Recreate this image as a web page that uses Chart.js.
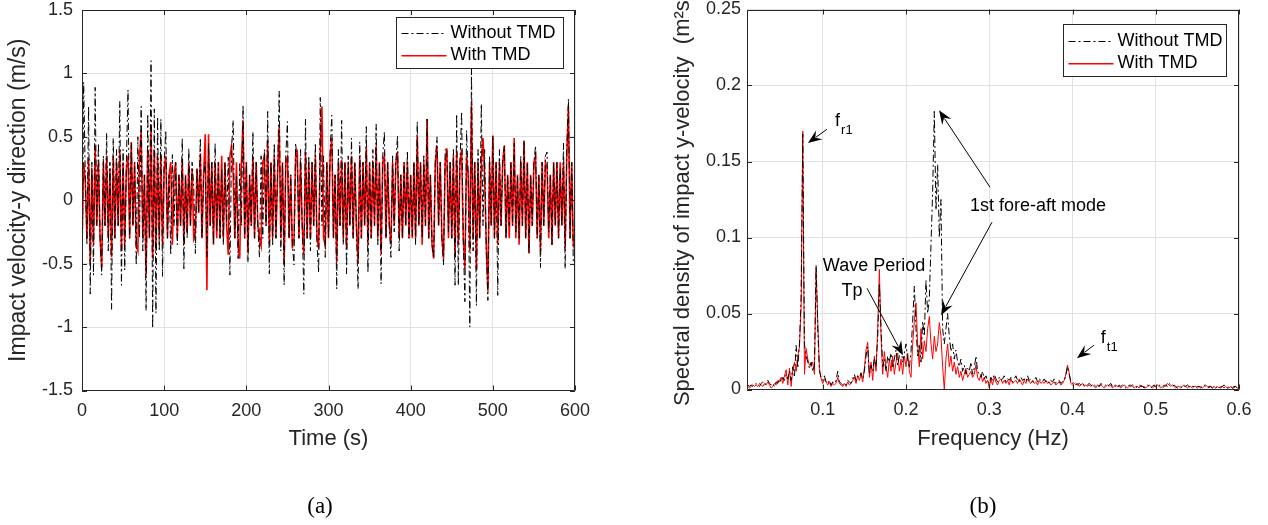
<!DOCTYPE html>
<html lang="en">
<head>
<meta charset="UTF-8">
<title>Impact velocity with and without TMD</title>
<script src="https://cdn.jsdelivr.net/npm/chart.js"></script>
<style>
  body { margin: 0; background: #fff; width: 1268px; height: 525px; position: relative; overflow: hidden; }
  canvas { position: absolute; top: 0; }
  #c1 { left: 0; }
  #c2 { left: 634px; }
  .cap { position: absolute; top: 493px; font: 23px "Liberation Serif", "Times New Roman", serif; line-height: 26px; transform: translateX(-50%); color: #000; }
</style>
</head>
<body>
<canvas id="c1" width="634" height="525"></canvas>
<canvas id="c2" width="634" height="525"></canvas>
<div class="cap" style="left:320px">(a)</div>
<div class="cap" style="left:983px">(b)</div>
<script>
// (a) impact velocity, y direction, sampled every 2 s from 0 to 600 s
const DT = 2;
const velWithout = [
  -0.82, 0.93, 0.2, -0.35, 0.74, -0.74, 0.3, -0.59, 0.89, -0.2,
  0.45, -0.3, -0.59, 0.35, -0.2, 0.53, -0.4, 0.3, -0.86, 0.49,
  -0.3, 0.4, -0.2, 0.78, -0.67, 0.4, -0.55, 0.3, 0.87, -0.3,
  0.45, -0.2, 0.3, -0.51, 0.5, -0.3, 0.74, -0.4, 0.2, -0.87,
  0.68, -0.3, 1.1, -1.01, 0.72, -0.89, 0.66, -0.4, 0.64, -0.6,
  0.3, 0.55, -0.3, 0.2, -0.43, 0.36, -0.2, 0.3, -0.35, 0.2,
  -0.2, 0.49, -0.54, 0.2, -0.3, 0.41, -0.2, 0.3, 0.1, -0.42,
  0.25, -0.1, 0.49, -0.3, 0.2, 0.3, -0.45, 0.45, -0.2, 0.3,
  -0.35, 0.45, -0.25, 0.3, -0.3, 0.25, -0.35, 0.3, -0.2, 0.34,
  -0.59, 0.4, 0.63, -0.3, 0.2, -0.46, 0.3, -0.2, 0.75, -0.3,
  0.3, -0.49, 0.2, -0.2, 0.54, -0.3, 0.3, -0.2, -0.45, 0.35,
  -0.3, 0.4, -0.2, 0.70, -0.58, 0.3, -0.35, 0.45, -0.3, 0.2,
  0.86, -0.4, 0.3, -0.67, 0.35, 0.62, -0.3, 0.2, -0.35, -0.51,
  0.45, 0.3, -0.3, 0.4, -0.2, -0.74, 0.64, -0.3, 0.35, -0.4,
  0.3, -0.2, 0.45, -0.35, -0.57, 0.81, -0.2, 0.35, -0.45, 0.3,
  -0.3, 0.4, 0.67, -0.3, 0.2, -0.70, 0.4, -0.2, 0.63, -0.35,
  0.3, -0.58, 0.35, -0.2, 0.49, -0.3, 0.3, -0.25, -0.70, 0.46,
  -0.3, 0.3, -0.2, 0.58, -0.57, 0.3, -0.3, 0.4, -0.2, 0.6,
  -0.35, 0.3, -0.66, 0.35, 0.54, -0.3, 0.3, -0.2, -0.45, 0.35,
  -0.25, 0.3, 0.51, -0.4, 0.2, -0.3, 0.3, -0.2, 0.39, -0.3,
  0.2, -0.28, 0.3, -0.35, 0.62, -0.2, 0.3, -0.3, 0.35, -0.2,
  0.64, -0.3, 0.2, -0.35, -0.46, 0.3, 0.5, -0.2, 0.3, -0.3,
  -0.51, 0.4, 0.41, -0.25, 0.3, -0.3, 0.4, -0.67, 0.68, -0.67,
  0.3, 0.7, -0.3, -0.8, 0.55, 0.2, -1.0, 1.04, -0.4, 0.3,
  -0.83, 0.4, -0.3, 0.76, -0.2, 0.4, -0.4, -0.79, 0.35, -0.2,
  0.51, -0.3, 0.3, -0.75, 0.4, -0.2, 0.3, 0.43, -0.3, 0.2,
  -0.2, 0.3, -0.2, 0.45, -0.25, 0.2, -0.3, 0.35, -0.2, 0.47,
  -0.3, 0.3, -0.42, 0.2, -0.2, 0.3, 0.43, -0.3, 0.2, -0.53,
  0.3, -0.2, 0.35, 0.38, -0.25, 0.2, -0.35, 0.3, -0.2, 0.3,
  -0.3, 0.25, -0.2, 0.45, -0.54, 0.4, 0.8, -0.3, 0.3, -0.51,
  -0.5
];
const velWith = [
  -0.38, 0.30, 0.15, -0.3, 0.33, -0.49, 0.25, -0.35, 0.43, -0.2,
  0.3, -0.3, -0.53, 0.3, -0.2, 0.35, -0.3, 0.25, -0.45, 0.35,
  -0.3, 0.3, -0.2, 0.4, -0.4, 0.3, -0.35, 0.25, 0.35, -0.3,
  0.46, -0.2, 0.3, -0.35, -0.40, 0.35, 0.55, -0.3, 0.2, -0.59,
  0.4, -0.3, 0.6, -0.46, 0.4, -0.4, 0.35, -0.3, 0.35, -0.35,
  0.25, 0.35, -0.3, 0.2, 0.3, -0.35, 0.2, 0.3, -0.3, 0.2,
  -0.2, 0.33, -0.35, 0.2, -0.25, 0.3, -0.2, 0.25, -0.3, -0.25,
  0.25, -0.1, 0.37, -0.3, 0.2, 0.52, -0.71, 0.52, -0.2, 0.3,
  -0.35, 0.3, -0.3, 0.3, -0.3, 0.35, -0.3, 0.3, -0.2, -0.43,
  0.35, 0.43, 0.2, -0.3, 0.3, -0.35, -0.46, 0.3, 0.63, -0.3,
  0.3, -0.41, 0.2, -0.2, 0.35, -0.3, 0.3, -0.2, -0.3, -0.36,
  0.3, 0.35, -0.2, 0.47, -0.34, 0.3, -0.3, 0.35, -0.3, 0.2,
  0.58, -0.3, 0.3, -0.50, 0.3, 0.34, -0.3, 0.2, -0.38, -0.3,
  0.35, 0.38, -0.3, 0.3, -0.2, -0.43, 0.38, -0.3, 0.3, -0.3,
  0.3, -0.2, 0.35, -0.3, -0.38, 0.4, 0.74, -0.3, -0.35, 0.3,
  -0.3, 0.35, 0.49, -0.3, 0.2, -0.49, 0.3, -0.2, 0.32, -0.3,
  0.3, -0.38, 0.3, -0.2, 0.35, -0.3, 0.3, -0.2, -0.49, 0.35,
  -0.3, 0.3, -0.2, 0.42, -0.35, 0.3, -0.3, 0.3, -0.2, 0.43,
  -0.3, 0.3, -0.42, 0.3, 0.35, -0.3, 0.3, -0.2, -0.34, 0.3,
  -0.2, 0.3, 0.38, -0.3, 0.2, -0.3, 0.3, -0.2, 0.3, -0.3,
  0.2, -0.3, 0.3, -0.3, 0.51, -0.2, 0.3, -0.35, 0.3, -0.2,
  0.64, -0.3, 0.2, -0.35, -0.46, 0.3, 0.43, -0.2, 0.3, -0.3,
  -0.46, 0.3, 0.41, -0.3, 0.3, -0.3, 0.35, -0.45, 0.38, -0.35,
  0.3, 0.4, -0.3, -0.54, 0.35, 0.2, -0.4, 0.76, -0.3, 0.3,
  -0.54, 0.3, -0.3, 0.3, 0.49, 0.2, -0.35, -0.72, 0.3, -0.2,
  0.51, -0.3, 0.3, -0.35, 0.3, -0.2, 0.3, 0.43, -0.3, 0.2,
  -0.3, 0.3, -0.2, 0.49, -0.3, 0.2, -0.35, 0.3, -0.2, 0.47,
  -0.3, 0.3, -0.42, 0.2, -0.2, 0.3, 0.35, -0.3, 0.2, -0.4,
  0.3, -0.2, 0.3, 0.25, -0.3, 0.2, -0.35, 0.3, -0.2, 0.3,
  -0.3, 0.3, -0.2, 0.3, -0.38, 0.35, 0.74, -0.3, 0.3, -0.35,
  -0.4
];
const timeTicks = [0, 100, 200, 300, 400, 500, 600];
const velTicks = [-1.5, -1, -0.5, 0, 0.5, 1, 1.5];

// (b) spectral density, 0.010 Hz to 0.600 Hz every 0.002 Hz
const F0 = 0.01, DF = 0.002;
const psdWithout = [
  0.003, 0.002, 0.003, 0.002, 0.003, 0.004, 0.003, 0.002, 0.004, 0.005,
  0.003, 0.004, 0.006, 0.004, 0.003, 0.004, 0.002, 0.005, 0.004, 0.007,
  0.005, 0.008, 0.006, 0.010, 0.007, 0.012, 0.006, 0.015, 0.008, 0.029,
  0.014, 0.030, 0.060, 0.168, 0.030, 0.022, 0.018, 0.014, 0.018, 0.012,
  0.015, 0.082, 0.040, 0.012, 0.008, 0.006, 0.009, 0.005, 0.004, 0.006,
  0.003, 0.005, 0.004, 0.006, 0.012, 0.005, 0.004, 0.003, 0.004, 0.003,
  0.006, 0.005, 0.004, 0.007, 0.010, 0.006, 0.009, 0.008, 0.011, 0.007,
  0.012, 0.022, 0.028, 0.010, 0.016, 0.012, 0.020, 0.015, 0.035, 0.070,
  0.040, 0.015, 0.020, 0.012, 0.022, 0.018, 0.024, 0.014, 0.020, 0.026,
  0.016, 0.022, 0.028, 0.018, 0.024, 0.030, 0.020, 0.014, 0.025, 0.045,
  0.068, 0.040, 0.022, 0.030, 0.018, 0.045, 0.035, 0.072, 0.050, 0.060,
  0.095, 0.130, 0.183, 0.118, 0.148, 0.100, 0.125, 0.040, 0.030, 0.040,
  0.050, 0.035, 0.025, 0.030, 0.020, 0.026, 0.018, 0.015, 0.020, 0.012,
  0.016, 0.010, 0.014, 0.012, 0.018, 0.010, 0.014, 0.022, 0.012, 0.010,
  0.008, 0.012, 0.007, 0.009, 0.006, 0.004, 0.008, 0.006, 0.010, 0.007,
  0.005, 0.008, 0.006, 0.007, 0.009, 0.005, 0.007, 0.006, 0.008, 0.005,
  0.007, 0.009, 0.006, 0.005, 0.008, 0.006, 0.007, 0.005, 0.009, 0.006,
  0.007, 0.005, 0.006, 0.008, 0.005, 0.007, 0.006, 0.005, 0.007, 0.005,
  0.006, 0.004, 0.006, 0.005, 0.007, 0.004, 0.005, 0.006, 0.004, 0.005,
  0.006, 0.009, 0.015, 0.010, 0.005, 0.004, 0.005, 0.004, 0.003, 0.004,
  0.003, 0.004, 0.003, 0.002, 0.003, 0.004, 0.003, 0.002, 0.003, 0.002,
  0.003, 0.002, 0.004, 0.003, 0.002, 0.003, 0.002, 0.003, 0.004, 0.002,
  0.003, 0.002, 0.001, 0.003, 0.002, 0.003, 0.002, 0.001, 0.002, 0.003,
  0.002, 0.003, 0.002, 0.001, 0.002, 0.003, 0.002, 0.002, 0.001, 0.002,
  0.003, 0.002, 0.001, 0.002, 0.003, 0.002, 0.002, 0.003, 0.002, 0.001,
  0.002, 0.003, 0.002, 0.004, 0.003, 0.002, 0.003, 0.002, 0.001, 0.002,
  0.002, 0.001, 0.002, 0.002, 0.003, 0.002, 0.001, 0.002, 0.002, 0.001,
  0.002, 0.002, 0.001, 0.002, 0.003, 0.002, 0.001, 0.002, 0.002, 0.001,
  0.002, 0.001, 0.002, 0.002, 0.001, 0.002, 0.003, 0.002, 0.001, 0.002,
  0.002, 0.001, 0.002, 0.002, 0.001, 0.002
];
const psdWith = [
  0.002, 0.001, 0.002, 0.003, 0.002, 0.003, 0.002, 0.004, 0.003, 0.002,
  0.004, 0.003, 0.005, 0.003, 0.001, 0.002, 0.004, 0.003, 0.006, 0.005,
  0.008, 0.004, 0.009, 0.013, 0.003, 0.014, 0.002, 0.013, 0.018, 0.012,
  0.022, 0.028, 0.055, 0.170, 0.010, 0.027, 0.020, 0.016, 0.015, 0.018,
  0.010, 0.079, 0.045, 0.014, 0.007, 0.004, 0.007, 0.005, 0.003, 0.005,
  0.002, 0.004, 0.003, 0.004, 0.008, 0.004, 0.003, 0.002, 0.004, 0.002,
  0.005, 0.003, 0.004, 0.006, 0.008, 0.004, 0.009, 0.006, 0.010, 0.005,
  0.014, 0.026, 0.031, 0.008, 0.018, 0.006, 0.022, 0.012, 0.040, 0.079,
  0.035, 0.010, 0.025, 0.015, 0.008, 0.020, 0.012, 0.022, 0.010, 0.018,
  0.024, 0.012, 0.020, 0.010, 0.022, 0.015, 0.024, 0.012, 0.008, 0.030,
  0.045, 0.057, 0.030, 0.015, 0.040, 0.020, 0.032, 0.025, 0.040, 0.048,
  0.030, 0.020, 0.035, 0.025, 0.030, 0.044, 0.035, 0.015, 0.000, 0.020,
  0.030, 0.015, 0.022, 0.012, 0.018, 0.010, 0.015, 0.008, 0.012, 0.006,
  0.010, 0.014, 0.008, 0.010, 0.012, 0.008, 0.010, 0.016, 0.008, 0.006,
  0.010, 0.005, 0.008, 0.004, 0.006, 0.001, 0.007, 0.003, 0.008, 0.005,
  0.003, 0.006, 0.007, 0.004, 0.006, 0.004, 0.006, 0.003, 0.007, 0.004,
  0.005, 0.006, 0.004, 0.007, 0.005, 0.003, 0.006, 0.004, 0.007, 0.005,
  0.004, 0.006, 0.004, 0.005, 0.003, 0.006, 0.004, 0.005, 0.004, 0.006,
  0.004, 0.005, 0.003, 0.004, 0.005, 0.003, 0.004, 0.005, 0.003, 0.004,
  0.006, 0.010, 0.016, 0.011, 0.004, 0.003, 0.004, 0.003, 0.004, 0.002,
  0.003, 0.004, 0.002, 0.003, 0.002, 0.003, 0.002, 0.003, 0.002, 0.001,
  0.003, 0.002, 0.003, 0.002, 0.001, 0.002, 0.003, 0.002, 0.003, 0.001,
  0.002, 0.003, 0.002, 0.002, 0.001, 0.002, 0.003, 0.002, 0.001, 0.002,
  0.003, 0.002, 0.001, 0.002, 0.002, 0.001, 0.003, 0.002, 0.002, 0.001,
  0.002, 0.003, 0.002, 0.001, 0.002, 0.002, 0.003, 0.002, 0.001, 0.002,
  0.003, 0.002, 0.004, 0.003, 0.002, 0.003, 0.002, 0.001, 0.002, 0.002,
  0.001, 0.002, 0.003, 0.002, 0.001, 0.002, 0.002, 0.001, 0.002, 0.002,
  0.001, 0.002, 0.002, 0.001, 0.002, 0.003, 0.002, 0.001, 0.002, 0.001,
  0.002, 0.001, 0.002, 0.001, 0.002, 0.002, 0.001, 0.002, 0.001, 0.001,
  0.002, 0.001, 0.001, 0.002, 0.001, 0.001
];
const freqTicks = [0.1, 0.2, 0.3, 0.4, 0.5, 0.6];
const psdTicks = [0, 0.05, 0.1, 0.15, 0.2, 0.25];

// text annotations and arrows of (b), in data units (Hz, m²s)
const notes = [
  { text: 'f', sub: 'r1', f: 0.1148, v: 0.1732 },
  { text: 'f', sub: 't1', f: 0.434, v: 0.0305 },
  { text: 'Wave Period', f: 0.1616, v: 0.0811, center: true },
  { text: 'Tp', f: 0.1352, v: 0.0647, center: true },
  { text: '1st fore-aft mode', f: 0.3585, v: 0.1206, center: true }
];
const arrows = [
  [0.105, 0.1712, 0.0822, 0.1621],
  [0.3009, 0.1331, 0.2397, 0.1837],
  [0.3033, 0.1101, 0.2421, 0.0489],
  [0.1532, 0.0666, 0.1964, 0.0226],
  [0.4257, 0.0291, 0.4053, 0.0206]
];

const time = velWithout.map((_, i) => i * DT);
const freq = psdWithout.map((_, i) => +(F0 + i * DF).toFixed(3));

const FONT = '"Liberation Sans", Arial, Helvetica, sans-serif';
const TEXT = '#262626';
const GRID = '#e1e1e1';
Chart.defaults.font.family = FONT;
Chart.defaults.color = TEXT;

const fmt = v => String(+Number(v).toFixed(2));

function xAxis(min, max, ticks, title, h) {
  return {
    type: 'linear', min, max,
    afterBuildTicks: s => { s.ticks = ticks.map(value => ({ value })); },
    afterFit: s => { s.height = h; s.paddingLeft = 0; s.paddingRight = 0; },
    grid: { color: GRID, drawTicks: false },
    border: { display: false },
    ticks: { padding: 10, autoSkip: false, maxRotation: 0, font: { size: 18 }, callback: fmt },
    title: { display: true, text: title, font: { size: 22 }, padding: 0 }
  };
}
function yAxis(min, max, ticks, w, pad) {
  return {
    min, max,
    afterBuildTicks: s => { s.ticks = ticks.map(value => ({ value })); },
    afterFit: s => { s.width = w; s.paddingTop = 0; s.paddingBottom = 0; },
    grid: { color: GRID, drawTicks: false },
    border: { display: false },
    ticks: { padding: pad, autoSkip: false, font: { size: 18 }, callback: fmt }
  };
}

// box round the axes with inward ticks on all four sides
const frame = {
  id: 'frame',
  afterDatasetsDraw(chart) {
    const { ctx, chartArea: a, scales: { x, y } } = chart;
    ctx.save();
    ctx.strokeStyle = TEXT;
    ctx.lineWidth = 1;
    ctx.beginPath();
    x.ticks.forEach(t => {
      const p = Math.round(x.getPixelForValue(t.value)) + 0.5;
      ctx.moveTo(p, a.bottom); ctx.lineTo(p, a.bottom - 5);
      ctx.moveTo(p, a.top); ctx.lineTo(p, a.top + 5);
    });
    y.ticks.forEach(t => {
      const p = Math.round(y.getPixelForValue(t.value)) + 0.5;
      ctx.moveTo(a.left, p); ctx.lineTo(a.left + 5, p);
      ctx.moveTo(a.right, p); ctx.lineTo(a.right - 5, p);
    });
    const l = Math.round(a.left) + 0.5, t = Math.round(a.top) + 0.5;
    ctx.rect(l, t, Math.round(a.right) - 0.5 - l, Math.round(a.bottom) - 0.5 - t);
    ctx.stroke();
    ctx.restore();
  }
};

function boxLegend(box) {
  return {
    id: 'boxLegend',
    afterDraw(chart) {
      const { ctx, chartArea: a } = chart;
      const left = Math.round(a.right - box.right - box.w) + 0.5;
      const top = Math.round(a.top + box.top) + 0.5;
      ctx.save();
      ctx.fillStyle = '#fff';
      ctx.fillRect(left, top, box.w, box.h);
      ctx.strokeStyle = TEXT;
      ctx.lineWidth = 1;
      ctx.strokeRect(left, top, box.w, box.h);
      chart.data.datasets.forEach((ds, i) => {
        const yy = Math.round(top + box.rows[i]);
        if (ds.borderDash) {
          ctx.save();
          ctx.strokeStyle = ds.borderColor;
          ctx.setLineDash(ds.borderDash);
          ctx.beginPath();
          ctx.moveTo(left + 5, yy + 0.5);
          ctx.lineTo(left + 50, yy + 0.5);
          ctx.stroke();
          ctx.restore();
        } else {
          ctx.fillStyle = ds.borderColor;
          ctx.fillRect(left + 5, yy, 45, 1.5);
        }
        ctx.fillStyle = '#000';
        ctx.font = '18px ' + FONT;
        ctx.textBaseline = 'middle';
        ctx.fillText(ds.label, left + 54, yy + 0.5);
      });
      ctx.restore();
    }
  };
}

function yTitle(text, x, size) {
  return {
    id: 'yTitle',
    afterDraw(chart) {
      const { ctx, chartArea: a } = chart;
      ctx.save();
      ctx.translate(x, (a.top + a.bottom) / 2);
      ctx.rotate(-Math.PI / 2);
      ctx.font = size + 'px ' + FONT;
      ctx.fillStyle = TEXT;
      ctx.textAlign = 'center';
      ctx.textBaseline = 'middle';
      ctx.fillText(text, 0, 0);
      ctx.restore();
    }
  };
}

function drawArrow(ctx, x1, y1, x2, y2) {
  const ang = Math.atan2(y2 - y1, x2 - x1), len = 14, wid = 11;
  ctx.beginPath();
  ctx.moveTo(x1, y1);
  ctx.lineTo(x2 - Math.cos(ang) * len * 0.7, y2 - Math.sin(ang) * len * 0.7);
  ctx.stroke();
  ctx.save();
  ctx.translate(x2, y2);
  ctx.rotate(ang);
  ctx.beginPath();
  ctx.moveTo(0, 0);
  ctx.lineTo(-len, -wid / 2);
  ctx.lineTo(-len * 0.65, 0);
  ctx.lineTo(-len, wid / 2);
  ctx.closePath();
  ctx.fill();
  ctx.restore();
}

const notesPlugin = {
  id: 'notes',
  afterDraw(chart) {
    const { ctx, scales: { x, y } } = chart;
    ctx.save();
    ctx.fillStyle = '#000';
    ctx.strokeStyle = '#000';
    ctx.lineWidth = 1;
    notes.forEach(n => {
      const px = x.getPixelForValue(n.f), py = y.getPixelForValue(n.v);
      ctx.font = '18px ' + FONT;
      if (n.center) {
        ctx.textAlign = 'center';
        ctx.textBaseline = 'middle';
        ctx.fillText(n.text, px, py);
      } else {
        ctx.textAlign = 'left';
        ctx.textBaseline = 'alphabetic';
        ctx.fillText(n.text, px, py);
        const w = ctx.measureText(n.text).width;
        ctx.font = '13px ' + FONT;
        ctx.fillText(n.sub, px + w + 1, py + 8);
      }
    });
    arrows.forEach(([f1, v1, f2, v2]) => drawArrow(ctx,
      x.getPixelForValue(f1), y.getPixelForValue(v1),
      x.getPixelForValue(f2), y.getPixelForValue(v2)));
    ctx.restore();
  }
};

const lineStyle = {
  without: { label: 'Without TMD', borderColor: '#000000', borderWidth: 1, borderDash: [7, 3, 2, 3], pointRadius: 0, tension: 0, fill: false },
  with: { label: 'With TMD', borderColor: '#ff0000', borderWidth: 1, pointRadius: 0, tension: 0, fill: false }
};

new Chart(document.getElementById('c1'), {
  type: 'line',
  data: {
    datasets: [
      { ...lineStyle.without, data: velWithout.map((v, i) => ({ x: time[i], y: v })) },
      { ...lineStyle.with, borderWidth: 1.6, data: velWith.map((v, i) => ({ x: time[i], y: v })) }
    ]
  },
  options: {
    responsive: false, animation: false, devicePixelRatio: 1,
    layout: { padding: { left: 0, top: 10, right: 59, bottom: 73 } },
    plugins: { legend: { display: false }, tooltip: { enabled: false } },
    scales: {
      x: xAxis(0, 600, timeTicks, 'Time (s)', 61.5),
      y: yAxis(-1.5, 1.5, velTicks, 82, 9)
    }
  },
  plugins: [frame, boxLegend({ right: 12, top: 7, w: 167, h: 51, rows: [15.5, 37] }),
            yTitle('Impact velocity-y direction (m/s)', 19, 23)]
});

new Chart(document.getElementById('c2'), {
  type: 'line',
  data: {
    datasets: [
      { ...lineStyle.without, data: psdWithout.map((v, i) => ({ x: freq[i], y: v })) },
      { ...lineStyle.with, data: psdWith.map((v, i) => ({ x: freq[i], y: v })) }
    ]
  },
  options: {
    responsive: false, animation: false, devicePixelRatio: 1,
    layout: { padding: { left: 0, top: 9.5, right: 29, bottom: 73 } },
    plugins: { legend: { display: false }, tooltip: { enabled: false } },
    scales: {
      x: xAxis(0.009, 0.6, freqTicks, 'Frequency (Hz)', 62.5),
      y: yAxis(0, 0.25, psdTicks, 113, 6)
    }
  },
  plugins: [frame, boxLegend({ right: 13, top: 14.5, w: 163, h: 52, rows: [16, 38] }),
            yTitle('Spectral density of impact y-velocity  (m²s)', 49, 22), notesPlugin]
});
</script>
</body>
</html>
